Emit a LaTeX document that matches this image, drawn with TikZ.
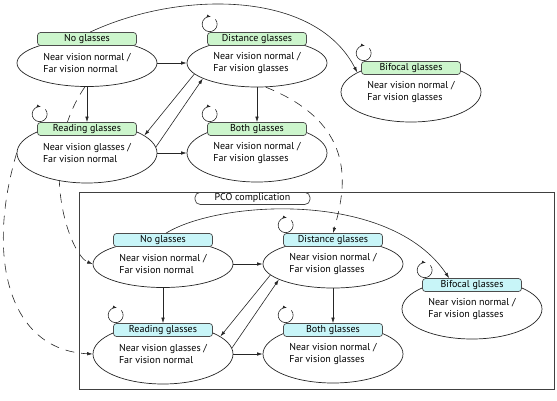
\documentclass[tikz,border=0pt]{standalone}
\usepackage{fontspec}
\setmainfont{PT Sans}
\usetikzlibrary{arrows.meta}
\usetikzlibrary{shapes.geometric}
\usetikzlibrary{backgrounds}

\definecolor{glassgreen}{RGB}{204,245,204}
\definecolor{glasscyan}{RGB}{200,245,248}

\begin{document}
\begin{tikzpicture}[x=1pt,y=-1pt,
  every node/.style={font=\fontsize{10}{12}\selectfont},
  state/.style={ellipse,draw=black!85,line width=.7pt,fill=white,minimum width=140pt,inner sep=0pt,align=left},
  tag/.style={draw=black!70,line width=.7pt,rounded corners=3pt,minimum width=99pt,minimum height=13pt,inner sep=0pt},
  move/.style={-{Latex[length=5.5pt,width=3.5pt]},black!85,line width=.6pt},
  jump/.style={move,dash pattern=on 9pt off 7pt},
  stay/.style={-{Latex[length=4pt,width=3pt]},black!85,line width=.6pt}]

\useasboundingbox (0,0) rectangle (557,400);

\node[draw=black!75,line width=.9pt,minimum width=475pt,minimum height=197pt,inner sep=0pt] (pco) at (316.5,290.5) {};
\node[draw=black!75,fill=white,line width=.7pt,rounded corners=5pt,minimum width=115pt,minimum height=12pt,inner sep=0pt,anchor=north] (pcotag) at ([xshift=-64pt,yshift=-.5pt]pco.north) {PCO complication};

\foreach \g/\dx/\dy/\bx/\by/\col in {a/0/0/411/92/glassgreen, b/76/201/472/309/glasscyan} {
  \node[state,minimum height=47pt] (ng\g) at (87+\dx,63+\dy) {Near vision normal /\\Far vision normal};
  \node[state,minimum height=48pt] (dg\g) at (257+\dx,63+\dy) {Near vision normal /\\Far vision glasses};
  \node[state,minimum height=60pt] (rg\g) at (87+\dx,153+\dy) {Near vision glasses /\\Far vision normal};
  \node[state,minimum height=58pt] (bg\g) at (257+\dx,153+\dy) {Near vision normal /\\Far vision glasses};
  \node[state,minimum height=60pt] (bf\g) at (\bx,\by) {Near vision normal /\\Far vision glasses};
  \foreach \s/\t in {ng/No glasses, dg/Distance glasses, rg/Reading glasses, bg/Both glasses, bf/Bifocal glasses}
    \node[tag,fill=\col] (t\s\g) at ([yshift=24pt]\s\g.center) {\t};

  \draw[move] (ng\g.east) -- (dg\g.west);
  \draw[move] (ng\g.south) -- (trg\g.north);
  \draw[move] (dg\g.south) -- (tbg\g.north);
  \draw[move] (rg\g.east) -- (bg\g.west);
  \draw[move] (dg\g.190) -- (rg\g.17);
  \draw[move] (rg\g.5) -- (dg\g.196);
  \foreach \s in {rg,dg,bg,bf}
    \draw[stay] ([shift={(2.5pt,8pt)}]t\s\g.north west) ++(40:7.5pt) arc[start angle=40,end angle=-280,radius=7.5pt];
}

\draw[move] ([xshift=3pt]tnga.north) .. controls (180,-10) and (315,-10) .. (bfa.160);
\draw[move] ([xshift=3pt]tngb.north) .. controls (220,200) and (390,190) .. ([xshift=27pt]tbfb.north west);

\begin{pgfonlayer}{background}
\draw[jump] (nga.265) .. controls (35,160) and (70,255) .. (ngb.west);
\draw[jump] (rga.west) .. controls (-15,260) and (10,350) .. (rgb.west);
\draw[jump] (dga.290) .. controls (360,125) and (345,190) .. (tdgb.north);
\end{pgfonlayer}

\end{tikzpicture}
\end{document}
